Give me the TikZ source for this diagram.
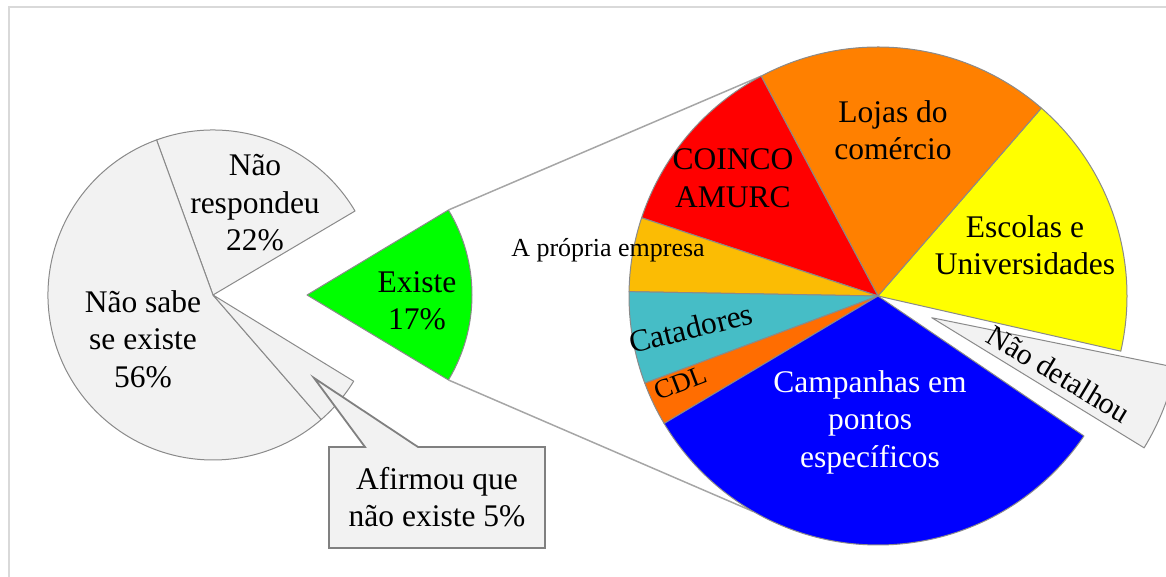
\documentclass[tikz,border=0pt]{standalone}
\usepackage{fontspec}
\setmainfont{Liberation Serif}
\usetikzlibrary{calc}
\definecolor{pgray}{HTML}{F2F2F2}
\definecolor{edgec}{HTML}{8A8A8A}
\definecolor{calloutc}{HTML}{808080}
\definecolor{connc}{HTML}{A6A6A6}
\definecolor{framec}{HTML}{D9D9D9}
\definecolor{cgreen}{HTML}{00FF00}
\definecolor{cyel}{HTML}{FFFF00}
\definecolor{corg}{HTML}{FF8000}
\definecolor{cred}{HTML}{FF0000}
\definecolor{cgold}{HTML}{FBBC04}
\definecolor{cteal}{HTML}{46BDC6}
\definecolor{ccdl}{HTML}{FF6D01}
\definecolor{cblue}{HTML}{0000FF}
\begin{document}
\begin{tikzpicture}[x=1pt,y=1pt,
  wedge/.style={draw=edgec, line width=1pt, line join=round},
  conn/.style={draw=connc, line width=1.5pt},
  lbl/.style={font=\fontsize{31.5}{37.5}\selectfont, align=center, inner sep=0pt},
  small/.style={font=\fontsize{26}{30}\selectfont, inner sep=0pt}]
\useasboundingbox (0,0) rectangle (1166,577);
\draw[framec, line width=2pt] (9,0) -- (9,569.5) -- (1166,569.5);

% centres
\coordinate (L) at (213,282);
\coordinate (E) at (307,282);
\coordinate (R) at (878,281);
\coordinate (G) at ($(R)+(-22:58)$);

% left pie
\filldraw[wedge, fill=pgray] (L) -- ++(30.6:165) arc[start angle=30.6, end angle=110, radius=165] -- cycle;
\filldraw[wedge, fill=pgray] (L) -- ++(110:165) arc[start angle=110, end angle=311, radius=165] -- cycle;
\filldraw[wedge, fill=pgray] (L) -- ++(311:165) arc[start angle=311, end angle=328.5, radius=165] -- cycle;

% callout
\filldraw[draw=calloutc, line width=1.8pt, fill=pgray, line join=miter]
  (329,130) -- (365,130) -- (314,199) -- (418,130) -- (545,130) -- (545,29) -- (329,29) -- cycle;
\node[lbl] (afirmou) at (437,80) {Afirmou que\\não existe 5\%};

% exploded slice
\filldraw[wedge, fill=cgreen] (E) -- ++(-31:165) arc[start angle=-31, end angle=31, radius=165] -- cycle;
\coordinate (eU) at ($(E)+(31:165)$);
\coordinate (eD) at ($(E)+(-31:165)$);
\coordinate (rU) at ($(R)+(118:249)$);
\coordinate (rD) at ($(R)+(240:249)$);
\draw[conn] (eU) -- (rU);
\draw[conn] (eD) -- (rD);

% right pie
\foreach \a/\b/\c in {-12.8/49/cyel, 49/118/corg, 118/161.7/cred, 161.7/179/cgold,
                      179/200.5/cteal, 200.5/210.8/ccdl, 210.8/325.8/cblue}{
  \filldraw[wedge, fill=\c] (R) -- ++(\a:249) arc[start angle=\a, end angle=\b, radius=249] -- cycle;
}
\filldraw[wedge, fill=pgray] (G) -- ++(-31.5:249) arc[start angle=-31.5, end angle=-11.5, radius=249] -- cycle;

% labels
\node[lbl] (naoresp) at (255,374) {Não\\respondeu\\22\%};
\node[lbl] (naosabe) at (143,238) {Não sabe\\se existe\\56\%};
\node[lbl] (existe) at (417,276) {Existe\\17\%};
\node[lbl] (lojas) at (893,447) {Lojas do\\comércio};
\node[lbl] (coinco) at (733,399) {COINCO\\AMURC};
\node[lbl] (escolas) at (1025,332) {Escolas e\\Universidades};
\node[small] (propria) at (608,327) {A própria empresa};
\node[lbl, rotate=14] (catadores) at (691,249) {Catadores};
\node[font=\fontsize{27}{30}\selectfont, inner sep=0pt, rotate=21] (cdl) at (681,194) {CDL};
\node[lbl, text=white] (campanhas) at (870,155) {Campanhas em\\pontos\\específicos};
\node[font=\fontsize{30}{34}\selectfont, inner sep=0pt, rotate=-31] (naodet) at (1059,203) {Não detalhou};
\end{tikzpicture}
\end{document}
